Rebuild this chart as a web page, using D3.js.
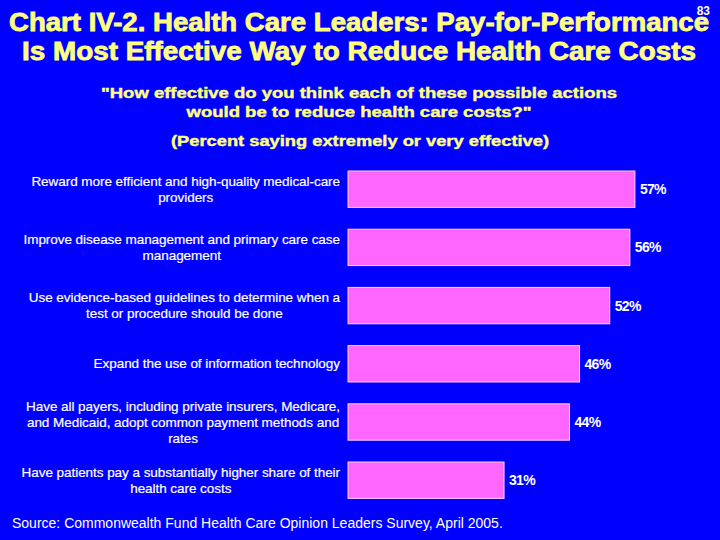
<!DOCTYPE html>
<html><head><meta charset="utf-8">
<script src="https://cdn.jsdelivr.net/npm/d3@7"></script>
<style>html,body{margin:0;padding:0;background:#0000FF;}svg{display:block;}</style>
</head><body>
<script>
const categories = [
  ["Reward more efficient and high-quality medical-care", "providers"],
  ["Improve disease management and primary care case", "management"],
  ["Use evidence-based guidelines to determine when a", "test or procedure should be done"],
  ["Expand the use of information technology"],
  ["Have all payers, including private insurers, Medicare,", "and Medicaid, adopt common payment methods and", "rates"],
  ["Have patients pay a substantially higher share of their", "health care costs"]
];
const values = [57, 56, 52, 46, 44, 31];
const titleLines = ["Chart IV-2. Health Care Leaders: Pay-for-Performance", "Is Most Effective Way to Reduce Health Care Costs"];
const subtitleLines = ["\"How effective do you think each of these possible actions", "would be to reduce health care costs?\""];
const noteLine = "(Percent saying extremely or very effective)";
const sourceText = "Source: Commonwealth Fund Health Care Opinion Leaders Survey, April 2005.";
const pageNumber = "83";

const W = 720, H = 540;
const svg = d3.select("body").append("svg").attr("width", W).attr("height", H);
svg.append("rect").attr("width", W).attr("height", H).attr("fill", "#0000FF");

const font = "'Liberation Sans', Arial, Helvetica, sans-serif";
const yellow = "#FFFF80";

function fit(sel, target) {
  const n = sel.node();
  const w = n.getComputedTextLength();
  if (w > 0) sel.attr("textLength", target).attr("lengthAdjust", "spacingAndGlyphs");
}

// Title
const titleY = [31, 60];
const titleW = [700, 674];
titleLines.forEach((t, i) => {
  const s = svg.append("text").attr("x", 359).attr("y", titleY[i]).attr("text-anchor", "middle")
    .attr("font-family", font).attr("font-weight", "bold").attr("font-size", 25)
    .attr("fill", yellow).attr("stroke", yellow).attr("stroke-width", 0.8).text(t);
  fit(s, titleW[i]);
});
svg.append("text").attr("x", 710).attr("y", 15).attr("text-anchor", "end")
  .attr("font-family", font).attr("font-weight", "bold").attr("font-size", 12)
  .attr("fill", "#FFFFFF").text(pageNumber);

const subY = [98, 117];
const subW = [516, 345];
subtitleLines.forEach((t, i) => {
  const s = svg.append("text").attr("x", 359).attr("y", subY[i]).attr("text-anchor", "middle")
    .attr("font-family", font).attr("font-weight", "bold").attr("font-size", 14)
    .attr("fill", yellow).attr("stroke", yellow).attr("stroke-width", 0.4).text(t);
  fit(s, subW[i]);
});
const ns = svg.append("text").attr("x", 360).attr("y", 146).attr("text-anchor", "middle")
  .attr("font-family", font).attr("font-weight", "bold").attr("font-size", 14)
  .attr("fill", yellow).attr("stroke", yellow).attr("stroke-width", 0.4).text(noteLine);
fit(ns, 378);

// Scales
const x = d3.scaleLinear().domain([0, 60]).range([348, 650]);
const y = d3.scaleBand().domain(d3.range(categories.length)).range([160.1, 509.3])
  .paddingInner(0.375).paddingOuter(0.1875);

svg.append("g").selectAll("rect").data(values).join("rect")
  .attr("x", x(0)).attr("y", (d, i) => y(i))
  .attr("width", d => x(d) - x(0)).attr("height", y.bandwidth())
  .attr("fill", "#FF66FF").attr("stroke", "#FFD0FF").attr("stroke-width", 1);

svg.append("g").selectAll("text").data(values).join("text")
  .attr("x", d => x(d) + 5).attr("y", (d, i) => y(i) + y.bandwidth() / 2 + 5)
  .attr("font-family", font).attr("font-weight", "bold").attr("font-size", 14)
  .attr("letter-spacing", -0.7)
  .attr("fill", "#FFFFFF").text(d => d + "%");

// Category labels: block right edge at 340, lines centred within block
const lh = 16;
const labelRight = 340;
categories.forEach((lines, i) => {
  const cy = y(i) + y.bandwidth() / 2;
  const startY = cy - (lines.length - 1) * lh / 2 + 4.5;
  const g = svg.append("g");
  const nodes = lines.map((t, j) => g.append("text").attr("y", startY + j * lh).attr("text-anchor", "middle")
      .attr("font-family", font).attr("font-size", 13.5).attr("letter-spacing", -0.05)
      .attr("fill", "#FFFFFF").attr("stroke", "#FFFFFF").attr("stroke-width", 0.2).text(t));
  const maxW = d3.max(nodes, n => n.node().getComputedTextLength());
  nodes.forEach(n => n.attr("x", labelRight - maxW / 2));
});

svg.append("text").attr("x", 12).attr("y", 528)
  .attr("font-family", font).attr("font-size", 14)
  .attr("fill", "#FFFFFF").text(sourceText);
</script>
</body></html>
